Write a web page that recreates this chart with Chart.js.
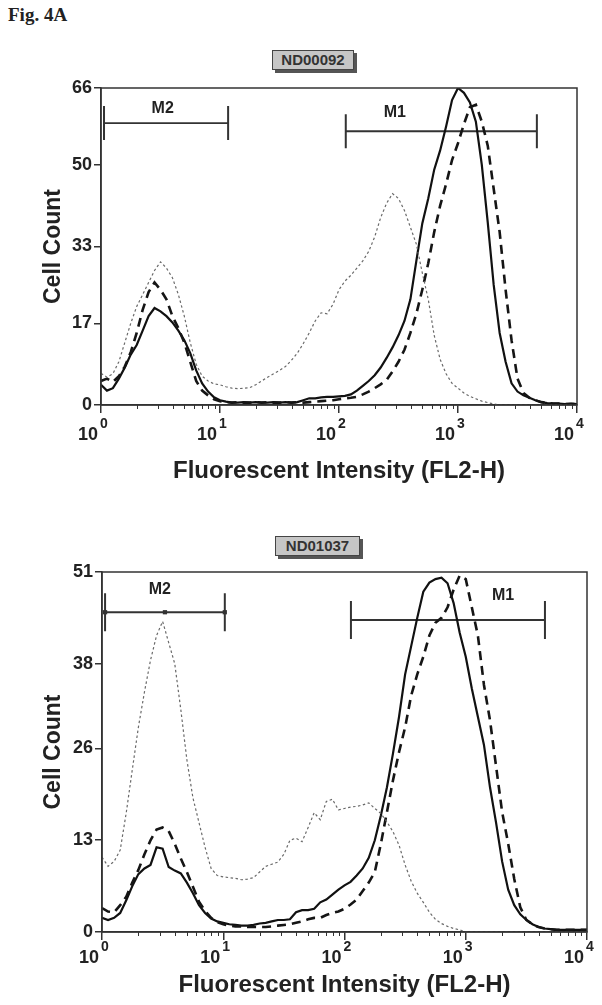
<!DOCTYPE html>
<html><head><meta charset="utf-8">
<script src="https://cdn.jsdelivr.net/npm/chart.js@4.4.1/dist/chart.umd.min.js"></script>
<style>
html,body{margin:0;padding:0;background:#fff;}
body{width:602px;height:1005px;position:relative;overflow:hidden;font-family:"Liberation Sans",Arial,sans-serif;}
#fig{position:absolute;left:8px;top:4px;font:bold 19px "Liberation Serif","Times New Roman",serif;color:#222;}
.tag{position:absolute;background:#c6c6c6;border:1px solid #444;box-shadow:3px 3px 0 #555;font:bold 15px "Liberation Sans",Arial,sans-serif;color:#333;text-align:center;height:18px;line-height:18px;}
.wrap{position:absolute;left:0;width:602px;}
</style></head>
<body>
<div id="fig">Fig. 4A</div>
<div class="tag" style="left:272px;top:50px;width:80px;">ND00092</div>
<div class="tag" style="left:275px;top:536px;width:83px;">ND01037</div>
<div class="wrap" style="top:0;height:500px;"><canvas id="c1" width="602" height="500"></canvas></div>
<div class="wrap" style="top:500px;height:505px;"><canvas id="c2" width="602" height="505"></canvas></div>
<script>
// ---- shared x grid (fluorescence channel values, log spaced) ----
const xs = [1,1.122,1.259,1.413,1.585,1.778,1.995,2.239,2.512,2.818,3.162,3.548,3.981,4.467,5.012,5.623,6.310,7.079,7.943,8.913,
 10,11.22,12.59,14.13,15.85,17.78,19.95,22.39,25.12,28.18,31.62,35.48,39.81,44.67,50.12,56.23,63.10,70.79,79.43,89.13,
 100,112.2,125.9,141.3,158.5,177.8,199.5,223.9,251.2,281.8,316.2,354.8,398.1,446.7,501.2,562.3,631.0,707.9,794.3,891.3,
 1000,1122,1259,1413,1585,1778,1995,2239,2512,2818,3162,3548,3981,4467,5012,5623,6310,7079,7943,8913,10000];

// ---- tick labels ----
const xTickValues = [1,10,100,1000,10000];
const xTickExps = ['0','1','2','3','4'];
const yTicksTop = [0,17,33,50,66];
const yTicksBottom = [0,13,26,38,51];

// ---- ND00092 (top) ----
const topSolid = [4.2,3.0,3.5,5.5,7.8,10.5,12.5,15.5,18.5,20.2,
 19.5,18.5,17.2,15.5,13.5,10.8,7.2,4.5,2.8,1.6,
 1.0,0.7,0.5,0.5,0.6,0.5,0.6,0.5,0.5,0.6,
 0.5,0.6,0.5,0.6,1.0,1.4,1.4,1.6,1.7,1.7,
 1.8,1.9,2.2,3.0,4.0,5.0,6.2,7.8,9.8,12.0,
 14.5,17.5,22.0,30.0,37.8,43.0,49.0,53.0,58.0,63.5,
 66.0,65.0,63.0,59.0,50.0,38.0,25.0,15.0,9.0,4.5,
 2.8,2.0,1.5,1.0,0.6,0.4,0.3,0.3,0.2,0.3,0.2];
const topDashed = [5.0,5.5,4.8,6.0,8.0,11.0,15.0,19.8,23.5,25.5,
 24.0,22.0,18.5,16.0,13.0,9.0,5.0,3.0,2.0,1.2,
 0.8,0.6,0.5,0.6,0.5,0.5,0.6,0.5,0.6,0.5,
 0.5,0.6,0.5,0.6,0.5,0.6,0.7,0.8,0.9,1.0,
 1.2,1.4,1.5,1.7,2.2,2.8,3.5,4.3,5.2,7.0,
 9.0,11.5,15.0,19.0,24.0,29.5,36.0,41.5,46.0,51.0,
 54.5,58.5,62.0,62.5,59.0,54.0,45.0,36.0,24.0,13.5,
 5.5,2.5,1.5,1.0,0.6,0.4,0.3,0.3,0.2,0.2,0.2];
const topDotted = [6.6,5.8,6.5,9.0,13.0,17.0,20.5,23.0,25.5,28.0,
 29.8,28.5,26.5,23.0,18.5,13.0,8.5,6.0,5.0,4.4,
 4.2,3.8,3.5,3.4,3.5,3.6,4.2,5.0,5.8,6.5,
 7.2,8.0,9.3,10.8,12.8,15.0,17.5,19.2,19.0,21.0,
 24.0,25.8,27.0,28.5,30.0,32.0,35.0,39.0,42.0,44.0,
 43.0,40.5,37.0,33.5,27.5,22.0,14.5,9.5,6.5,4.5,
 3.5,2.5,1.8,1.3,0.8,0.5,0.2,0,0,0,
 0,0,0,0,0,0,0,0,0,0,0];
// gates: [start, end, count level]; label: [x, count]
const topM1 = [114, 4600, 57.0];
const topM1Label = [295, 60.8];
const topM2 = [1.06, 11.7, 58.7];
const topM2Label = [3.3, 61.8];

// ---- ND01037 (bottom) ----
const botSolid = [2.0,1.7,2.0,2.7,4.5,6.5,8.2,9.0,9.5,12.0,
 11.8,9.2,8.7,8.3,7.0,5.5,3.8,2.7,1.9,1.5,
 1.3,1.1,1.0,0.9,0.9,1.0,1.2,1.3,1.5,1.7,
 1.7,1.8,2.8,3.1,3.1,3.3,4.2,4.6,5.3,6.0,
 6.6,7.1,8.0,9.0,10.5,13.0,16.5,20.5,25.3,30.5,
 36.5,40.5,44.5,48.2,49.5,50.0,50.2,49.4,46.6,42.4,
 39.0,34.5,30.5,26.5,20.5,15.5,10.0,6.0,3.8,2.5,
 1.7,1.1,0.7,0.5,0.4,0.3,0.3,0.3,0.3,0.3,0.3];
const botDashed = [3.4,2.9,2.8,3.8,5.0,7.0,8.8,11.0,13.0,14.5,
 14.8,14.3,12.5,10.4,8.5,6.4,4.3,3.0,2.0,1.4,
 1.1,0.9,0.8,0.8,0.7,0.7,0.7,0.7,0.8,0.9,
 1.0,1.1,1.3,1.5,1.8,2.0,2.0,2.4,2.7,2.9,
 3.3,3.9,4.6,5.8,7.0,8.5,12.5,17.0,21.5,25.5,
 29.0,33.5,36.5,39.0,42.0,43.8,44.5,46.0,48.5,50.5,
 50.0,46.0,42.0,35.0,30.0,23.5,17.0,12.5,7.5,3.5,
 1.7,1.1,0.7,0.5,0.4,0.3,0.3,0.3,0.3,0.3,0.3];
const botDotted = [10.6,9.3,10.0,11.6,16.9,23.0,29.0,34.0,38.5,42.0,
 44.0,41.0,38.0,31.5,24.4,19.0,15.5,12.0,9.0,8.0,
 7.8,7.7,7.6,7.4,7.5,7.7,8.5,9.3,9.6,9.9,
 11.0,13.0,13.3,12.8,14.8,16.9,15.9,18.5,18.8,17.3,
 17.5,17.7,17.8,18.0,18.3,17.5,16.8,15.6,14.2,12.3,
 9.5,7.2,5.5,4.2,2.8,1.8,1.2,0.8,0.5,0.3,
 0,0,0,0,0,0,0,0,0,0,
 0,0,0,0,0,0,0,0,0,0,0];
const botM1 = [113, 4500, 44.2];
const botM1Label = [2030, 47.6];
const botM2 = [1.06, 10.3, 45.3];
const botM2Label = [3.0, 48.5];

// ---------------- drawing ----------------
const FONT = '"Liberation Sans", Arial, sans-serif';
const solidStyle = {borderColor:'#111', borderWidth:2.2};
const dashStyle  = {borderColor:'#151515', borderWidth:2.6, borderDash:[9,6]};
const dotStyle   = {borderColor:'#6a6a6a', borderWidth:1.2, borderDash:[2.5,2.5]};

function series(ys, style){
  return Object.assign({data: ys.map((v,i)=>({x:xs[i], y:v})), pointRadius:0, fill:false, tension:0}, style);
}
function gateSet(g, squares){
  const pts = squares ? [{x:g[0],y:g[2]},{x:Math.sqrt(g[0]*g[1]),y:g[2]},{x:g[1],y:g[2]}]
                      : [{x:g[0],y:g[2]},{x:g[1],y:g[2]}];
  return {data:pts, borderColor:'#333', borderWidth:1.8, fill:false,
          pointRadius: squares?3:0, pointStyle:'rect', pointBackgroundColor:'#333', pointBorderWidth:0};
}

const deco = {
  id:'deco',
  afterDraw(chart, args, o){
    const {ctx, chartArea:a, scales:{x,y}} = chart;
    ctx.save();
    ctx.strokeStyle='#333'; ctx.lineWidth=1.5;
    ctx.strokeRect(a.left, a.top, a.right-a.left, a.bottom-a.top);
    // minor ticks
    ctx.lineWidth=1; ctx.beginPath();
    for (let d=1; d<10000; d*=10) for (let k=2;k<10;k++){
      const px=Math.round(x.getPixelForValue(k*d))+0.5;
      ctx.moveTo(px,a.bottom); ctx.lineTo(px,a.bottom+4);
    }
    ctx.stroke();
    // decade labels 10^n
    ctx.fillStyle='#222';
    xTickValues.forEach((v,i)=>{
      const px=x.getPixelForValue(v);
      ctx.textBaseline='alphabetic';
      ctx.font='bold 18px '+FONT; ctx.textAlign='right';
      ctx.fillText('10', px-3, a.bottom+o.base);
      ctx.font='bold 14px '+FONT; ctx.textAlign='left';
      ctx.fillText(xTickExps[i], px-1, a.bottom+o.expBase);
    });
    // gate end ticks + names
    o.gates.forEach(g=>{
      const x1=x.getPixelForValue(g.r[0]), x2=x.getPixelForValue(g.r[1]), py=y.getPixelForValue(g.r[2]);
      ctx.strokeStyle='#333'; ctx.lineWidth=2;
      ctx.beginPath();
      ctx.moveTo(x1,py-o.half); ctx.lineTo(x1,py+o.half);
      ctx.moveTo(x2,py-o.half); ctx.lineTo(x2,py+o.half);
      ctx.stroke();
      ctx.fillStyle='#222';
      ctx.font='bold 16px '+FONT; ctx.textAlign='center'; ctx.textBaseline='middle';
      ctx.fillText(g.name, x.getPixelForValue(g.l[0]), y.getPixelForValue(g.l[1]));
    });
    ctx.restore();
  }
};

function make(id, cfg){
  return new Chart(document.getElementById(id), {
    type:'line',
    data:{datasets:[
      series(cfg.dotted, dotStyle),
      series(cfg.dashed, dashStyle),
      series(cfg.solid, solidStyle),
      gateSet(cfg.m1, false),
      gateSet(cfg.m2, cfg.squares)
    ]},
    plugins:[deco],
    options:{
      responsive:false, animation:false, devicePixelRatio:1,
      layout:{padding:{left:0, right:cfg.padR, top:cfg.padT, bottom:0}},
      plugins:{legend:{display:false}, tooltip:{enabled:false},
        deco:{base:cfg.base, expBase:cfg.expBase, half:cfg.half,
          gates:[{r:cfg.m1, l:cfg.m1L, name:'M1'},{r:cfg.m2, l:cfg.m2L, name:'M2'}]}},
      scales:{
        x:{type:'logarithmic', min:1, max:10000,
          afterBuildTicks:s=>{s.ticks = xTickValues.map(v=>({value:v, major:true}));},
          afterFit:s=>{s.height = cfg.xH;},
          ticks:{display:false},
          grid:{display:true, drawOnChartArea:false, drawTicks:true, tickLength:8, color:'#333', lineWidth:1.5},
          border:{display:true, color:'#333', width:1.5},
          title:{display:true, text:'Fluorescent Intensity (FL2-H)', color:'#222',
            font:{family:FONT, size:24, weight:'bold', lineHeight:1}, padding:{top:0, bottom:cfg.xTitlePad}}
        },
        y:{type:'linear', min:0, max:cfg.yMax,
          afterBuildTicks:s=>{s.ticks = cfg.yTicks.map(v=>({value:v}));},
          afterFit:s=>{s.width = cfg.yW;},
          ticks:{color:'#222', padding:2, font:{family:FONT, size:18, weight:'bold'}},
          grid:{display:true, drawOnChartArea:false, drawTicks:true, tickLength:7, color:'#333', lineWidth:1.5},
          border:{display:true, color:'#333', width:1.5},
          title:{display:true, text:'Cell Count', color:'#222',
            font:{family:FONT, size:23, weight:'bold', lineHeight:1}, padding:{top:42, bottom:0}}
        }
      }
    }
  });
}

make('c1', {solid:topSolid, dashed:topDashed, dotted:topDotted,
  m1:topM1, m1L:topM1Label, m2:topM2, m2L:topM2Label, squares:false,
  yTicks:yTicksTop, yMax:66, padR:25, padT:88, yW:101, xH:95, xTitlePad:16.5,
  base:35, expBase:23, half:17});
make('c2', {solid:botSolid, dashed:botDashed, dotted:botDotted,
  m1:botM1, m1L:botM1Label, m2:botM2, m2L:botM2Label, squares:true,
  yTicks:yTicksBottom, yMax:51, padR:15, padT:72, yW:102, xH:73, xTitlePad:8,
  base:31, expBase:19, half:19});
</script>
</body></html>
